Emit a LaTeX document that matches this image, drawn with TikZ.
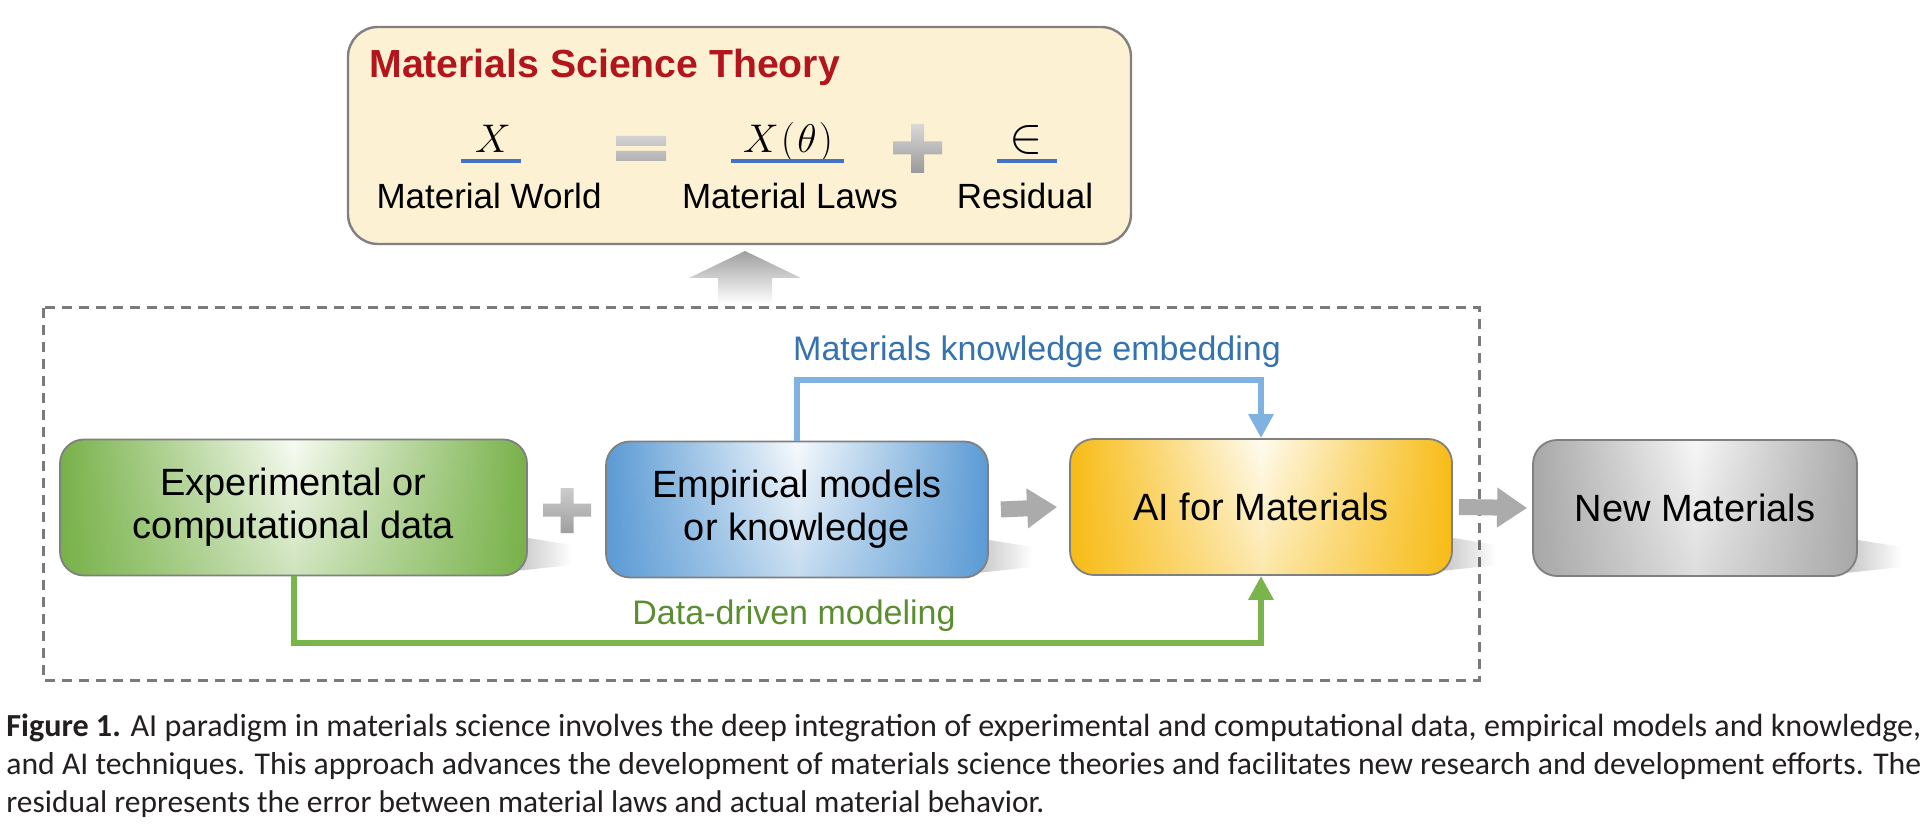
\RequirePackage{fix-cm}
\documentclass[tikz,border=0pt]{standalone}
\usepackage[no-math]{fontspec}
\setmainfont{Liberation Sans}
\newfontfamily\capfont{Carlito}
\usetikzlibrary{arrows.meta,fadings}
\definecolor{bordgray}{HTML}{808080}
\definecolor{grnE}{HTML}{78B24A}
\definecolor{grnC}{HTML}{F8FBF3}
\definecolor{bluE}{HTML}{5B9BD5}
\definecolor{bluC}{HTML}{F7FAFD}
\definecolor{yelE}{HTML}{F8BC16}
\definecolor{yelC}{HTML}{FFFCF0}
\definecolor{gryE}{HTML}{A8A8A8}
\definecolor{gryC}{HTML}{F7F7F7}
\definecolor{topfill}{HTML}{FDF1D3}
\definecolor{titlered}{HTML}{B2161C}
\definecolor{ulblue}{HTML}{4472C4}
\definecolor{connblue}{HTML}{7FB2E0}
\definecolor{conngreen}{HTML}{7AB54C}
\definecolor{labblue}{HTML}{3572B0}
\definecolor{labgreen}{HTML}{5B8E31}
\definecolor{dashgray}{HTML}{7A7A7A}
\definecolor{arrowgray}{HTML}{ABABAB}
\definecolor{captext}{HTML}{231F20}
\begin{document}
\begin{tikzpicture}[x=0.5pt,y=-0.5pt,
  mbox/.style={draw=bordgray, line width=0.9pt, rounded corners=12pt, align=center,
    inner sep=0pt, minimum height=68pt, text=black, font=\fontsize{19}{21.5}\selectfont,
    left color=#1E, right color=#1E, middle color=#1C,
    path picture={\fill[#1E, opacity=0.32, path fading=north]
      (path picture bounding box.south west) rectangle (path picture bounding box.north east);}},
  bconn/.style={draw=connblue, line width=3pt, -{Triangle[width=12pt,length=12pt]}},
  gconn/.style={draw=conngreen, line width=3pt, -{Triangle[width=12pt,length=12pt]}},
  garrow/.style={draw=arrowgray, line width=8pt, -{Triangle[width=19pt,length=15pt]}},
  lab/.style={anchor=base, inner sep=0pt, font=\fontsize{17}{20}\selectfont},
  eqlab/.style={anchor=base, inner sep=0pt, font=\fontsize{17.5}{20}\selectfont},
  mathlab/.style={anchor=base, inner sep=0pt, font=\fontsize{20}{22}\selectfont},
  ul/.style={draw=ulblue, line width=1.6pt},
  shadowfill/.style={fill=black, opacity=0.30, path fading=east},
  capline/.style={anchor=base west, inner sep=0pt, text=captext}
]
\useasboundingbox (0,0) rectangle (1931,839);
\fill[white] (0,0) rectangle (1931,839);

% ---- theory box ----
\node[draw=bordgray, line width=1.2pt, fill=topfill, rounded corners=15pt,
  minimum width=391.5pt, minimum height=108.5pt, inner sep=0pt] (theory) at (739.5,135.5) {};
\node[anchor=base west, inner sep=0pt, text=titlered, font=\fontsize{19.6}{22}\selectfont\bfseries]
  (title) at (369,78) {Materials Science Theory};
\node[mathlab] (mx) at (493,153) {$X$};
\node[mathlab] (mxt) at (788,153) {$X\mkern1mu(\mkern1mu\theta\mkern1mu)$};
\node[mathlab, font=\fontsize{25}{27}\selectfont] (mres) at (1026,153) {$\in$};
\draw[ul] (461,161) -- (521,161);
\draw[ul] (731,161) -- (844,161);
\draw[ul] (997,161) -- (1057,161);
\shade[top color=gray!35, bottom color=gray!60] (616,136) rectangle (666,146) (616,151) rectangle (666,161);
\shade[top color=gray!30, bottom color=gray!80] (893,141.5) rectangle (942,154.5) (911,124) rectangle (924,173);
\node[eqlab] (lw) at (489,209) {Material World};
\node[eqlab] (ll) at (790,209) {Material Laws};
\node[eqlab] (lr) at (1025,209) {Residual};

% ---- upward arrow ----
\shade[top color=gray!75, bottom color=white]
  (745,251) -- (801,278) -- (772,278) -- (772,304) -- (718,304) -- (718,278) -- (689,278) -- cycle;

% ---- dashed frame ----
\draw[dashgray, line width=1.5pt, dash pattern=on 5pt off 3.5pt] (43,308) rectangle (1479,680);

% ---- shadows ----
\foreach \R/\B in {527/575, 988/577, 1452/575, 1857/577}{
  \fill[shadowfill] (\R-30,\B-42) -- (\R+45,\B-30) -- (\R+45,\B-10) -- (\R-30,\B-2) -- cycle;
}

% ---- boxes ----
\node[mbox=grn, minimum width=233.5pt]
  (data) at (293.5,507.5) {Experimental or\\computational data};
\node[mbox=blu, minimum width=191pt]
  (emp) at (797,509.5) {Empirical models\\or knowledge};
\node[mbox=yel, minimum width=191pt]
  (ai) at (1261,507) {AI for Materials};
\node[mbox=gry, minimum width=162pt]
  (newm) at (1695,508) {New Materials};

% plus between data and emp
\shade[top color=gray!40, bottom color=gray!75] (543,503.5) rectangle (591,516.5) (560.5,488) rectangle (573.5,533);

% gray arrows
\draw[garrow] ([xshift=6pt]emp.east) -- ([xshift=-6pt]ai.west);
\draw[garrow] ([xshift=3pt]ai.east) -- ([xshift=-2.5pt]newm.west);

% ---- connectors ----
\coordinate (btop) at (0,380);
\coordinate (gbot) at (0,643);
\draw[bconn] (emp.north) -- (emp.north |- btop) -| (ai.north);
\draw[gconn] (data.south) -- (data.south |- gbot) -| (ai.south);
\node[lab, text=labblue] (lk) at (1037,361) {Materials knowledge embedding};
\node[lab, text=labgreen] (ld) at (794,624) {Data-driven modeling};

% ---- caption ----
\node[capline] (cap1) at (6,736) {\resizebox{957.5pt}{!}{\capfont\fontsize{14.5}{17}\selectfont\textbf{Figure 1.} AI paradigm in materials science involves the deep integration of experimental and computational data, empirical models and knowledge,}};
\node[capline] (cap2) at (6,774) {\resizebox{957.5pt}{!}{\capfont\fontsize{14.5}{17}\selectfont and AI techniques. This approach advances the development of materials science theories and facilitates new research and development efforts. The}};
\node[capline] (cap3) at (6,812) {\resizebox{519pt}{!}{\capfont\fontsize{14.5}{17}\selectfont residual represents the error between material laws and actual material behavior.}};
\end{tikzpicture}
\end{document}
